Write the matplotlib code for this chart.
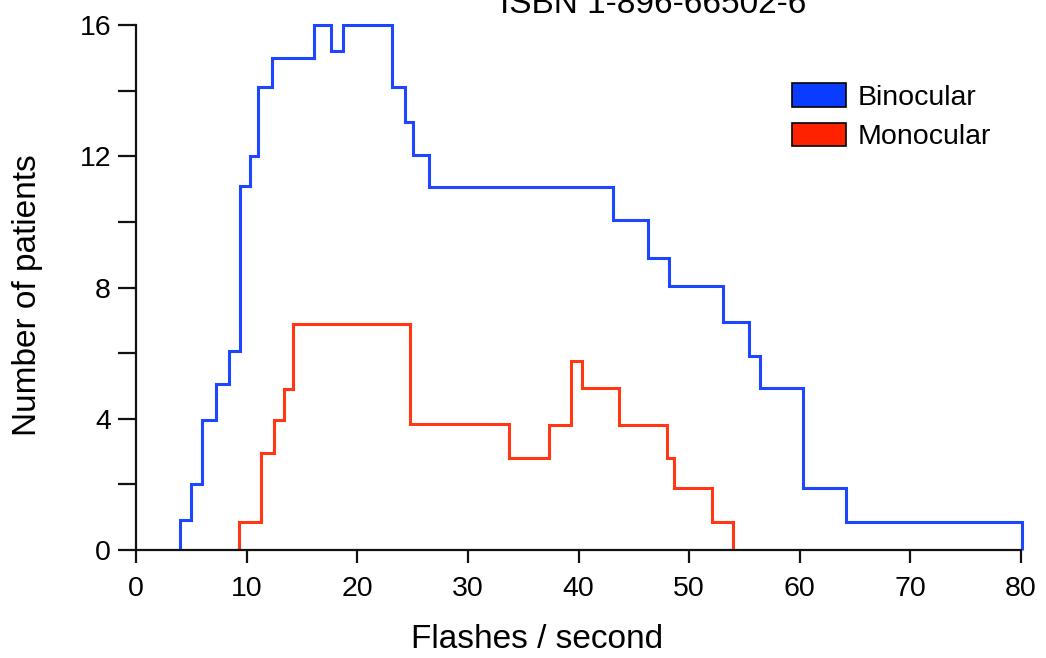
import matplotlib
matplotlib.use("Agg")
import matplotlib.pyplot as plt
from matplotlib.patches import Patch

plt.rcParams['font.family'] = ['Liberation Sans', 'DejaVu Sans']

# step outlines: bin edges and heights
bino_edges = [4.0, 4.95, 5.95, 7.2, 8.4, 9.4, 10.3, 11.05, 12.3, 16.1, 17.6, 18.75,
              23.1, 24.35, 25.05, 26.5, 43.1, 46.3, 48.2, 53.05, 55.45, 56.4,
              60.3, 64.15, 80.05]
bino_counts = [0.9, 2.0, 3.95, 5.05, 6.05, 11.1, 12.0, 14.1, 15.0, 16.0, 15.2, 16.0,
               14.1, 13.05, 12.05, 11.05, 10.05, 8.9, 8.05, 6.95, 5.9, 4.95, 1.9, 0.85]

mono_edges = [9.35, 11.3, 12.5, 13.4, 14.2, 24.8, 33.75, 37.35, 39.3, 40.3, 43.65,
              48.0, 48.65, 52.1, 54.0]
mono_counts = [0.85, 2.95, 3.95, 4.9, 6.9, 3.85, 2.8, 3.8, 5.75, 4.95, 3.8, 2.8, 1.9, 0.85]

series_names = ['Binocular', 'Monocular']
line_colors = ['#1e46ff', '#ff3714']
box_colors = ['#0a3cff', '#ff2200']

x_ticks = [0, 10, 20, 30, 40, 50, 60, 70, 80]
y_ticks = [0, 2, 4, 6, 8, 10, 12, 14, 16]

W, H = 1046, 658
fig = plt.figure(figsize=(W / 100, H / 100), dpi=100)
ax = fig.add_axes([136 / W, 1 - 550 / H, (1021 - 136) / W, (550 - 25) / H])

ax.stairs(bino_counts, bino_edges, baseline=0, color=line_colors[0], lw=2.2, clip_on=False)
ax.stairs(mono_counts, mono_edges, baseline=0, color=line_colors[1], lw=2.2, clip_on=False)

ax.set_xlim(0, 80)
ax.set_ylim(0, 16)
ax.set_xticks(x_ticks)
ax.set_yticks(y_ticks)
ax.set_yticklabels([str(v) if v % 4 == 0 else '' for v in y_ticks])

for s in ['top', 'right']:
    ax.spines[s].set_visible(False)
for s in ['left', 'bottom']:
    ax.spines[s].set_linewidth(1.6)
    ax.spines[s].set_color('#111111')
ax.tick_params(axis='y', length=13, width=1.6, pad=5, labelsize=20.5, color='#111111')
ax.tick_params(axis='x', length=9.5, width=1.6, pad=9, labelsize=20.5, color='#111111')

fig.text(28 / W, 1 - 295 / H, 'Number of patients', rotation=90,
         ha='center', va='center', fontsize=24)
fig.text(537 / W, 1 - 640 / H, 'Flashes / second', ha='center', va='center', fontsize=24)
# the reference shows this line clipped by the top edge
fig.text(653 / W, 1 - 13 / H, 'ISBN 1-896-66502-6', ha='center', va='baseline', fontsize=24)

handles = [Patch(facecolor=box_colors[i], edgecolor='black', lw=1.2, label=series_names[i])
           for i in range(2)]
ax.legend(handles=handles, loc='upper left', bbox_to_anchor=(792 / W, 1 - 83 / H),
          bbox_transform=fig.transFigure, frameon=False, borderpad=0, borderaxespad=0,
          fontsize=20.5, handlelength=1.9, handleheight=0.9, handletextpad=0.42,
          labelspacing=0.42)

fig.savefig('out.png', dpi=100)
